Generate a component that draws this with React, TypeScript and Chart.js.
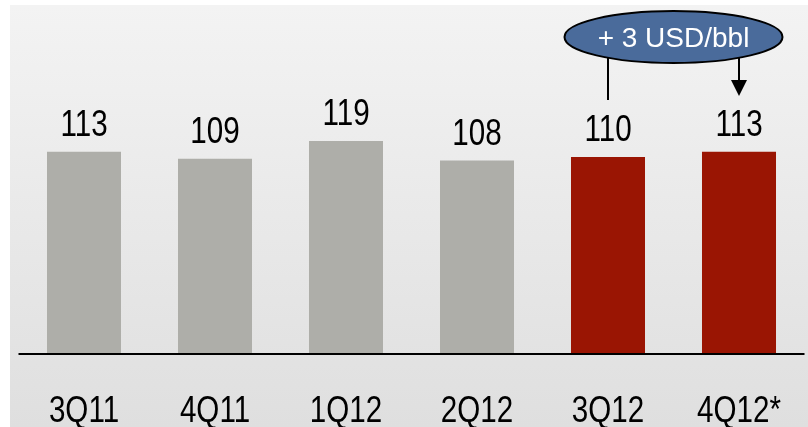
import React, { useEffect, useRef } from "react";
import { Chart, registerables } from "chart.js";

Chart.register(...registerables);

const categories = ["3Q11", "4Q11", "1Q12", "2Q12", "3Q12", "4Q12*"];
const values = [113, 109, 119, 108, 110, 113];
const barColors = ["#aeaea9", "#aeaea9", "#aeaea9", "#aeaea9", "#9a1503", "#9a1503"];
const annotationText = "+ 3 USD/bbl";

const FONT = "'Liberation Sans', Arial, sans-serif";

function drawSquished(ctx: CanvasRenderingContext2D, text: string, x: number, y: number, size: number, sx: number) {
  ctx.save();
  ctx.translate(x, y);
  ctx.scale(sx, 1);
  ctx.font = `${size}px ${FONT}`;
  ctx.textAlign = "center";
  ctx.textBaseline = "alphabetic";
  ctx.fillStyle = "#000";
  ctx.fillText(text, 0, 0);
  ctx.restore();
}

const bgPlugin = {
  id: "bgPanel",
  beforeDraw(chart: any) {
    const ctx = chart.ctx as CanvasRenderingContext2D;
    ctx.save();
    ctx.fillStyle = "#ffffff";
    ctx.fillRect(0, 0, chart.width, chart.height);
    const g = ctx.createLinearGradient(0, 5, 0, chart.height);
    g.addColorStop(0, "#f3f3f3");
    g.addColorStop(1, "#dfdfdf");
    ctx.fillStyle = g;
    ctx.fillRect(10, 5, chart.width - 10, chart.height - 5);
    ctx.restore();
  },
  afterDatasetsDraw(chart: any) {
    const ctx = chart.ctx as CanvasRenderingContext2D;
    const xs = chart.scales.x;
    const ys = chart.scales.y;
    const base = ys.getPixelForValue(0);
    // axis line
    ctx.save();
    ctx.strokeStyle = "#000";
    ctx.lineWidth = 2;
    ctx.beginPath();
    ctx.moveTo(chart.chartArea.left, base);
    ctx.lineTo(chart.chartArea.right, base);
    ctx.stroke();
    ctx.restore();

    // value labels and category labels
    values.forEach((v, i) => {
      const x = xs.getPixelForValue(i);
      const top = ys.getPixelForValue(v);
      drawSquished(ctx, String(v), x, top - 16, 37, 0.8);
      drawSquished(ctx, categories[i], x, 422, 37, 0.8);
    });

    // annotation
    const x4 = xs.getPixelForValue(4);
    const x5 = xs.getPixelForValue(5);
    const cx = (x4 + x5) / 2;
    const cy = 37;
    const rx = 109;
    const ry = 26;
    ctx.save();
    ctx.strokeStyle = "#000";
    ctx.lineWidth = 2;
    ctx.beginPath();
    ctx.moveTo(x4, cy + 10);
    ctx.lineTo(x4, 100);
    ctx.stroke();
    ctx.beginPath();
    ctx.moveTo(x5, cy + 10);
    ctx.lineTo(x5, 82);
    ctx.stroke();
    ctx.fillStyle = "#000";
    ctx.beginPath();
    ctx.moveTo(x5 - 8, 80);
    ctx.lineTo(x5 + 8, 80);
    ctx.lineTo(x5, 96);
    ctx.closePath();
    ctx.fill();

    ctx.beginPath();
    ctx.ellipse(cx, cy, rx, ry, 0, 0, Math.PI * 2);
    ctx.fillStyle = "#4a6b9b";
    ctx.fill();
    ctx.lineWidth = 2;
    ctx.strokeStyle = "#000";
    ctx.stroke();
    ctx.fillStyle = "#ffffff";
    ctx.font = `28px ${FONT}`;
    ctx.textAlign = "center";
    ctx.textBaseline = "alphabetic";
    ctx.fillText(annotationText, cx, cy + 10);
    ctx.restore();
  },
};

export default function App() {
  const ref = useRef<HTMLCanvasElement | null>(null);
  useEffect(() => {
    if (!ref.current) return;
    const chart = new Chart(ref.current, {
      type: "bar",
      data: {
        labels: categories,
        datasets: [
          {
            data: values,
            backgroundColor: barColors,
            borderWidth: 0,
            categoryPercentage: 1,
            barPercentage: 0.565,
          },
        ],
      },
      options: {
        animation: false,
        responsive: true,
        maintainAspectRatio: false,
        layout: { padding: { left: 18.5, right: 3.5, top: 12, bottom: 73 } },
        plugins: { legend: { display: false }, tooltip: { enabled: false } },
        scales: {
          x: { display: false },
          y: { display: false, min: 0, max: 191 },
        },
      },
      plugins: [bgPlugin],
    });
    return () => chart.destroy();
  }, []);
  return (
    <div style={{ position: "absolute", left: 0, top: 0, width: 808, height: 427 }}>
      <canvas ref={ref} />
    </div>
  );
}
